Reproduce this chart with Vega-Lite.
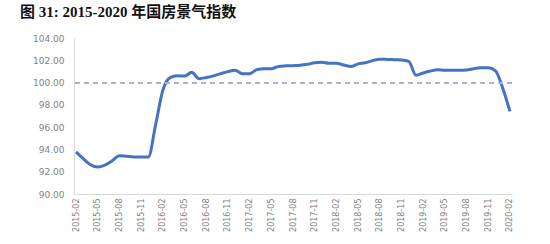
{
  "$schema": "https://vega.github.io/schema/vega-lite/v6.json",
  "autosize": {"type": "none"},
  "width": 438,
  "height": 156,
  "padding": {"left": 74, "top": 38, "right": 38, "bottom": 50},
  "background": "white",
  "title": {
    "text": "图 31: 2015-2020 年国房景气指数",
    "anchor": "start",
    "frame": "group",
    "dx": -54,
    "offset": 14,
    "font": "Liberation Serif, Noto Sans CJK SC",
    "fontSize": 15,
    "fontWeight": "bold",
    "color": "#111111"
  },
  "config": {
    "view": {"stroke": null},
    "axis": {
      "grid": false,
      "ticks": false,
      "domainColor": "#d9d9d9",
      "domainWidth": 1,
      "labelColor": "#7f7f7f",
      "labelFont": "DejaVu Sans",
      "labelOverlap": false,
      "title": null
    }
  },
  "data": {
    "values": [
      {"month": "2015-02", "value": 93.78},
      {"month": "2015-03", "value": 93.17},
      {"month": "2015-04", "value": 92.63},
      {"month": "2015-05", "value": 92.42},
      {"month": "2015-06", "value": 92.6},
      {"month": "2015-07", "value": 92.99},
      {"month": "2015-08", "value": 93.44},
      {"month": "2015-09", "value": 93.38},
      {"month": "2015-10", "value": 93.33},
      {"month": "2015-11", "value": 93.32},
      {"month": "2015-12", "value": 93.32},
      {"month": "2016-01", "value": 96.2},
      {"month": "2016-02", "value": 99.3},
      {"month": "2016-03", "value": 100.45},
      {"month": "2016-04", "value": 100.62},
      {"month": "2016-05", "value": 100.58},
      {"month": "2016-06", "value": 100.92},
      {"month": "2016-07", "value": 100.35},
      {"month": "2016-08", "value": 100.45},
      {"month": "2016-09", "value": 100.6},
      {"month": "2016-10", "value": 100.8},
      {"month": "2016-11", "value": 100.98},
      {"month": "2016-12", "value": 101.1},
      {"month": "2017-01", "value": 100.8},
      {"month": "2017-02", "value": 100.8},
      {"month": "2017-03", "value": 101.16},
      {"month": "2017-04", "value": 101.25},
      {"month": "2017-05", "value": 101.25},
      {"month": "2017-06", "value": 101.45},
      {"month": "2017-07", "value": 101.5},
      {"month": "2017-08", "value": 101.52},
      {"month": "2017-09", "value": 101.55},
      {"month": "2017-10", "value": 101.64},
      {"month": "2017-11", "value": 101.78},
      {"month": "2017-12", "value": 101.82},
      {"month": "2018-01", "value": 101.73},
      {"month": "2018-02", "value": 101.73},
      {"month": "2018-03", "value": 101.58},
      {"month": "2018-04", "value": 101.45},
      {"month": "2018-05", "value": 101.68},
      {"month": "2018-06", "value": 101.78},
      {"month": "2018-07", "value": 101.97},
      {"month": "2018-08", "value": 102.1},
      {"month": "2018-09", "value": 102.08},
      {"month": "2018-10", "value": 102.05},
      {"month": "2018-11", "value": 102.02},
      {"month": "2018-12", "value": 101.9},
      {"month": "2019-01", "value": 100.65},
      {"month": "2019-02", "value": 100.86},
      {"month": "2019-03", "value": 101.04},
      {"month": "2019-04", "value": 101.16},
      {"month": "2019-05", "value": 101.1},
      {"month": "2019-06", "value": 101.1},
      {"month": "2019-07", "value": 101.1},
      {"month": "2019-08", "value": 101.12},
      {"month": "2019-09", "value": 101.25},
      {"month": "2019-10", "value": 101.32},
      {"month": "2019-11", "value": 101.32},
      {"month": "2019-12", "value": 101.05},
      {"month": "2020-01", "value": 99.5},
      {"month": "2020-02", "value": 97.42}
    ]
  },
  "encoding": {
    "x": {
      "field": "month",
      "type": "ordinal",
      "sort": null,
      "scale": {"type": "point", "padding": 0.28},
      "axis": {
        "values": ["2015-02","2015-05","2015-08","2015-11","2016-02","2016-05","2016-08","2016-11","2017-02","2017-05","2017-08","2017-11","2018-02","2018-05","2018-08","2018-11","2019-02","2019-05","2019-08","2019-11","2020-02"],
        "labelAngle": -90,
        "labelFontSize": 8,
        "labelPadding": 4,
        "labelOverlap": false
      }
    }
  },
  "layer": [
    {
      "mark": {"type": "line", "color": "#4472c4", "strokeWidth": 3, "interpolate": "monotone"},
      "encoding": {
        "y": {
          "field": "value",
          "type": "quantitative",
          "scale": {"domain": [90, 104], "nice": false, "zero": false},
          "axis": {"values": [90, 92, 94, 96, 98, 100, 102, 104], "format": ".2f", "labelFontSize": 9, "labelPadding": 10, "labelOverlap": false, "labelBound": false, "labelFlush": false}
        }
      }
    },
    {
      "mark": {"type": "rule", "color": "#a8b3c7", "strokeDash": [5, 4], "strokeWidth": 1.3},
      "encoding": {
        "y": {
          "datum": 100,
          "type": "quantitative",
          "axis": {"values": [90, 92, 94, 96, 98, 100, 102, 104], "format": ".2f", "labelFontSize": 9, "labelPadding": 10, "labelOverlap": false, "labelBound": false, "labelFlush": false}
        },
        "x": null
      }
    }
  ]
}
